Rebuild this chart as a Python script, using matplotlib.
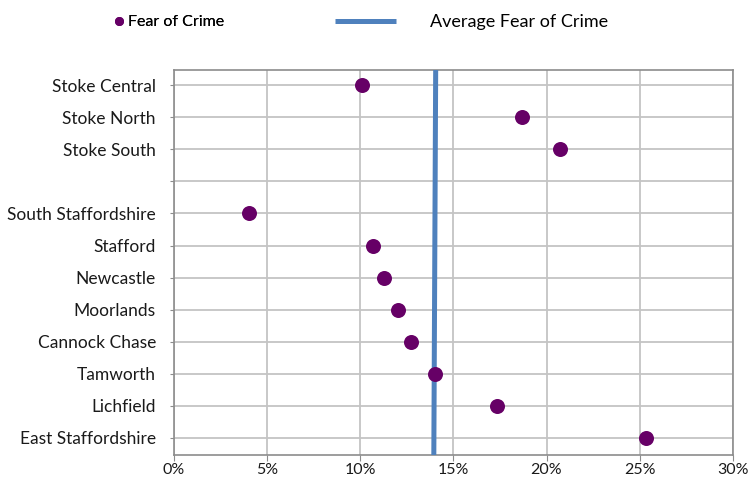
import matplotlib.pyplot as plt
from matplotlib.lines import Line2D
from matplotlib.ticker import FuncFormatter

# fear of crime by area (%), blank row separates Stoke from the districts
areas = ['Stoke Central', 'Stoke North', 'Stoke South', '',
         'South Staffordshire', 'Stafford', 'Newcastle', 'Moorlands',
         'Cannock Chase', 'Tamworth', 'Lichfield', 'East Staffordshire']
fear = [10.1, 18.7, 20.7, None,
        4.0, 10.7, 11.3, 12.0,
        12.7, 14.0, 17.35, 25.35]

# average line end points (top, bottom)
avg_fear = [14.05, 13.95]

xticks = [0, 5, 10, 15, 20, 25, 30]

plt.rcParams['font.family'] = ['Lato', 'DejaVu Sans']

fig = plt.figure(figsize=(7.5, 4.83), dpi=100)
ax = fig.add_axes([0.232, 0.058, 0.745, 0.797])

ypos = list(range(len(areas)))
px = [v for v in fear if v is not None]
py = [y for y, v in zip(ypos, fear) if v is not None]

ax.plot([avg_fear[0], avg_fear[1]], [-0.47, 11.53], color='#4f81bd', lw=3.6,
        zorder=3, solid_capstyle='butt')
ax.plot(px, py, 'o', color='#660066', ms=10.8, mec='none', zorder=4)

ax.set_xlim(0, 30)
ax.set_ylim(11.53, -0.47)
ax.set_xticks(xticks)
ax.xaxis.set_major_formatter(FuncFormatter(lambda v, p: f'{v:.0f}%'))
ax.set_yticks(ypos)
ax.set_yticklabels(areas)

ax.grid(True, color='#c4c4c4', lw=1.3, zorder=0)
ax.set_axisbelow(True)
for s in ax.spines.values():
    s.set_color('#8c8c8c')
    s.set_linewidth(1.2)
ax.tick_params(axis='x', length=4, color='#8c8c8c', labelsize=11.5,
               labelcolor='#1a1a1a', pad=2)
ax.tick_params(axis='y', length=3, color='#8c8c8c', labelsize=12.5,
               labelcolor='#1a1a1a', pad=10)

# legend across the top
h_dot = Line2D([], [], marker='o', ls='none', color='#660066', ms=6.5, mec='none')
h_line = Line2D([], [], color='#4f81bd', lw=3.6, solid_capstyle='butt')
leg1 = fig.legend(handles=[h_dot], labels=['Fear of Crime'], loc='center left',
                  bbox_to_anchor=(0.150, 0.954), frameon=False, fontsize=11.5,
                  handlelength=0.8, handletextpad=0.15, borderpad=0,
                  borderaxespad=0)
fig.add_artist(leg1)
fig.legend(handles=[h_line], labels=['Average Fear of Crime'], loc='center left',
           bbox_to_anchor=(0.446, 0.954), frameon=False, fontsize=13,
           handlelength=3.4, handletextpad=1.9, borderpad=0, borderaxespad=0)

fig.savefig('out.png', dpi=100)
